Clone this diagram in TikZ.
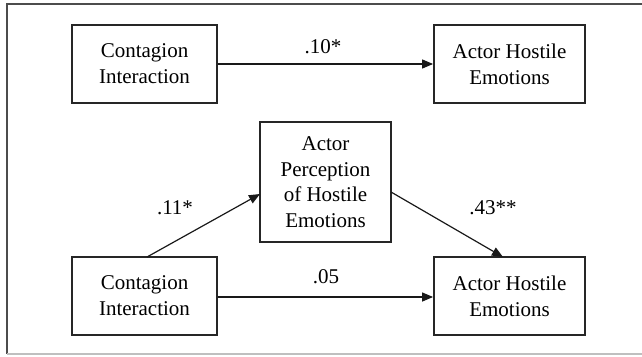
\documentclass[tikz,border=0pt]{standalone}
\usepackage{fontspec}
\setmainfont{Liberation Serif}
\usetikzlibrary{arrows.meta}
\begin{document}
\begin{tikzpicture}[x=1pt,y=-1pt,
  varbox/.style={draw=black!85,line width=1.8pt,inner sep=0pt,align=center,
    font=\fontsize{21}{26}\selectfont},
  path/.style={draw=black!90,line width=1.2pt,-{Triangle[length=11pt,width=9pt]}},
  coef/.style={font=\fontsize{21}{26}\selectfont,inner sep=0pt}]
\useasboundingbox (0,0) rectangle (642,356);
\draw[black!70,line width=1.2pt] (642,4) -- (7,4) -- (7,354);
\draw[black!25,line width=1.2pt] (7,354) -- (642,354);
% boxes
\node[varbox,minimum width=145pt,minimum height=78pt] (ci1) at (144.5,64) {Contagion\\Interaction};
\node[varbox,minimum width=151pt,minimum height=78pt] (ah1) at (509.5,64) {Actor Hostile\\Emotions};
\node[varbox,minimum width=131pt,minimum height=120pt,font=\fontsize{21}{25.5}\selectfont] (ap) at (325.5,182) {Actor\\Perception\\of Hostile\\Emotions};
\node[varbox,minimum width=145pt,minimum height=78pt] (ci2) at (144.5,296) {Contagion\\Interaction};
\node[varbox,minimum width=151pt,minimum height=78pt] (ah2) at (509.5,296) {Actor Hostile\\Emotions};
% paths
\draw[path] (ci1.east) -- (ah1.west);
\draw[path] (ci2.east |- 0,297) -- (ah2.west |- 0,297);
\coordinate (s11) at (147,257);
\coordinate (e11) at (260,194);
\draw[path] (s11) -- (e11);
\coordinate (s43) at (391,192);
\coordinate (e43) at (503,257);
\draw[path] (s43) -- (e43);
% labels
\node[coef] (l10) at (323,47) {.10*};
\node[coef] (l05) at (326,277) {.05};
\node[coef] (l11) at (175,208) {.11*};
\node[coef] (l43) at (493,208) {.43**};
\end{tikzpicture}
\end{document}
